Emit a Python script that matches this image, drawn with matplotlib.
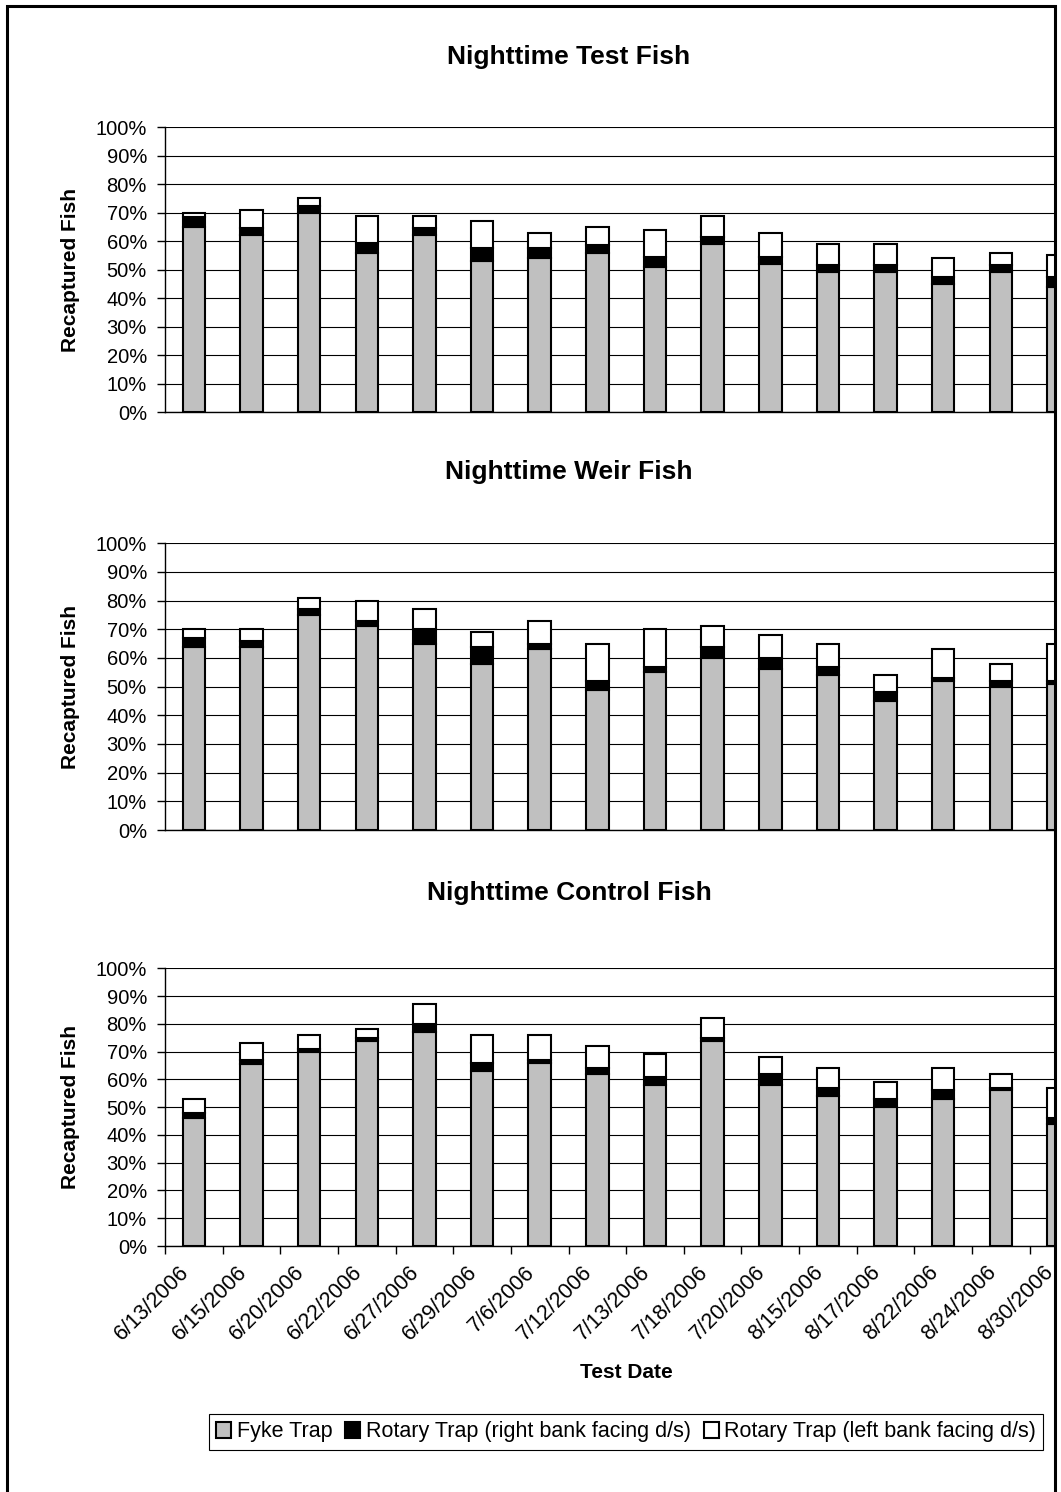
import numpy as np
import matplotlib
matplotlib.use("Agg")
import matplotlib.pyplot as plt
import matplotlib.transforms as mtransforms
from matplotlib.patches import Patch, Rectangle
from matplotlib.ticker import FuncFormatter

plt.rcParams['font.family'] = ['Liberation Sans', 'DejaVu Sans']

dates = ['6/13/2006', '6/15/2006', '6/20/2006', '6/22/2006', '6/27/2006', '6/29/2006',
         '7/6/2006', '7/12/2006', '7/13/2006', '7/18/2006', '7/20/2006', '8/15/2006',
         '8/17/2006', '8/22/2006', '8/24/2006', '8/30/2006']

titles = ['Nighttime Test Fish', 'Nighttime Weir Fish', 'Nighttime Control Fish']
series_names = ['Fyke Trap', 'Rotary Trap (right bank facing d/s)',
                'Rotary Trap (left bank facing d/s)']

# percent recaptured, per panel
test_fyke = [65, 62, 70, 56, 62, 53, 54, 56, 51, 59, 52, 49, 49, 45, 49, 44]
test_right = [3.5, 2.5, 2.5, 3.5, 2.5, 4.5, 3.5, 2.5, 3.5, 2.5, 2.5, 2.5, 2.5, 2.5, 2.5, 3.5]
test_left = [1.5, 6.5, 2.5, 9.5, 4.5, 9.5, 5.5, 6.5, 9.5, 7.5, 8.5, 7.5, 7.5, 6.5, 4.5, 7.5]

weir_fyke = [64, 64, 75, 71, 65, 58, 63, 49, 55, 60, 56, 54, 45, 52, 50, 51]
weir_right = [3, 2, 2, 2, 5, 6, 2, 3, 2, 4, 4, 3, 3, 1, 2, 1]
weir_left = [3, 4, 4, 7, 7, 5, 8, 13, 13, 7, 8, 8, 6, 10, 6, 13]

ctrl_fyke = [46, 65.5, 70, 74, 77, 63, 66, 62, 58, 74, 58, 54, 50, 53, 56, 44]
ctrl_right = [2, 1.5, 1, 1, 3, 3, 1, 2, 3, 1, 4, 3, 3, 3, 1, 2]
ctrl_left = [5, 6, 5, 3, 7, 10, 9, 8, 8, 7, 6, 7, 6, 8, 5, 11]

panels = [(test_fyke, test_right, test_left),
          (weir_fyke, weir_right, weir_left),
          (ctrl_fyke, ctrl_right, ctrl_left)]

W, H = 1061, 1492
fig = plt.figure(figsize=(W / 100, H / 100), dpi=100)

# axes boxes in pixels: (top, bottom)
boxes = [(127.3, 412), (543.3, 830), (968.3, 1246)]
title_y = [57, 472, 893]
x_left, x_right = 165, 1058.5   # plot runs past the chart border, cut off there
x = np.arange(len(dates))

for i, (fyke, right, left) in enumerate(panels):
    top, bot = boxes[i]
    ax = fig.add_axes([x_left / W, 1 - bot / H, (x_right - x_left) / W, (bot - top) / H])
    fyke = np.array(fyke)
    right = np.array(right)
    left = np.array(left)

    ax.bar(x, fyke, width=0.39, color='#C0C0C0', edgecolor='black', linewidth=1.5, zorder=3)
    ax.bar(x, right, width=0.39, bottom=fyke, color='black', edgecolor='black', linewidth=1.5, zorder=3)
    ax.bar(x, left, width=0.39, bottom=fyke + right, color='white', edgecolor='black', linewidth=1.5, zorder=3)

    ax.set_yticks(np.arange(0, 101, 10))
    ax.yaxis.set_major_formatter(FuncFormatter(lambda v, p: f'{v:.0f}%'))
    ax.yaxis.grid(True, color='black', linewidth=0.8)
    ax.set_axisbelow(True)
    for s in ['top', 'right']:
        ax.spines[s].set_visible(False)
    ax.spines['left'].set_linewidth(1.0)
    ax.spines['bottom'].set_linewidth(1.0)
    ax.tick_params(axis='y', labelsize=14.5, length=6, width=1, pad=7, direction='out')

    if i == 2:
        ax.set_xticks(np.arange(-0.5, len(dates) - 1, 1))
        ax.set_xticklabels([])
        ax.set_xticks(x, minor=True)
        ax.set_xticklabels(dates, minor=True, rotation=45, ha='right', va='center',
                           rotation_mode='anchor', fontsize=15.5)
        ax.tick_params(axis='x', which='major', length=6, width=1, direction='out')
        ax.tick_params(axis='x', which='minor', length=0, pad=13)
        # excel puts the end of each date a little left of the bar
        shift = mtransforms.ScaledTranslation(-8 / 100, -5 / 100, fig.dpi_scale_trans)
        for lab in ax.get_xticklabels(minor=True):
            lab.set_transform(lab.get_transform() + shift)
    else:
        ax.set_xticks([])

    # limits last, set_xticks would widen them
    ax.set_ylim(0, 100)
    ax.set_xlim(-0.5, len(dates) - 1)

    fig.text(569 / W, 1 - title_y[i] / H, titles[i], ha='center', va='center',
             fontsize=19, fontweight='bold')
    fig.text(70 / W, 1 - (top + bot) / 2 / H, 'Recaptured Fish', rotation=90,
             ha='center', va='center', fontsize=15, fontweight='bold')

fig.text(626 / W, 1 - 1373 / H, 'Test Date', ha='center', va='center',
         fontsize=15, fontweight='bold')

handles = [Patch(facecolor='#C0C0C0', edgecolor='black', linewidth=1.5),
           Patch(facecolor='black', edgecolor='black', linewidth=1.5),
           Patch(facecolor='white', edgecolor='black', linewidth=1.5)]
leg = fig.legend(handles, series_names, loc='center', bbox_to_anchor=(626 / W, 1 - 1432 / H),
                 ncol=3, fontsize=15.5, fancybox=False, edgecolor='black', framealpha=1,
                 handlelength=0.7, handleheight=0.7, handletextpad=0.25, columnspacing=0.6,
                 borderpad=0.35, borderaxespad=0)
leg.get_frame().set_linewidth(0.8)

# blank strip right of the chart border, then the border itself
fig.patches.append(Rectangle((1055 / W, 0), 1 - 1055 / W, 1, transform=fig.transFigure,
                             facecolor='white', edgecolor='none', zorder=9))
fig.patches.append(Rectangle((6.5 / W, -0.02), (1055 - 6.5) / W, 1.02 - 6.5 / H,
                             transform=fig.transFigure, fill=False, edgecolor='black',
                             linewidth=2.2, zorder=10))

fig.savefig('out.png', dpi=100)
